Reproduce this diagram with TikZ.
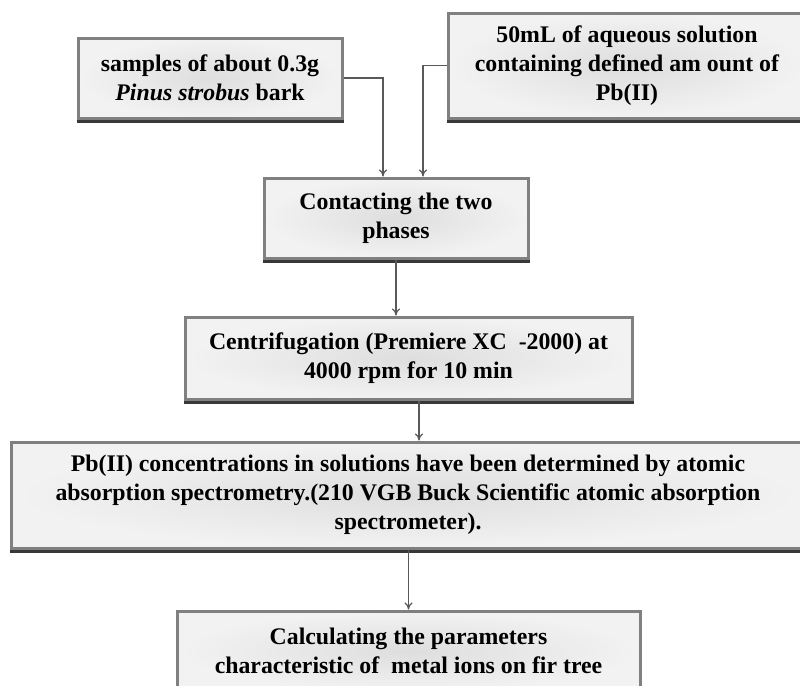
\documentclass[tikz,border=0pt]{standalone}
\usepackage{fontspec}
\setmainfont{Liberation Serif}
\usetikzlibrary{arrows.meta}

\begin{document}
\begin{tikzpicture}[
    x=0.5pt, y=-0.5pt,
    stepBox/.style={rectangle, draw=black!50, line width=1.5pt, inner color=black!13, outer color=black!5, align=center, font=\fontsize{11.9}{14.5}\selectfont\bfseries, inner sep=0pt},
    baseEdge/.style={draw=black!78, line width=1.2pt},
    arrowStyle/.style={-{To[length=3.5pt,width=4pt]}, line width=0.6pt, draw=black!65}
]
    \useasboundingbox (0,0) rectangle (800,686);
    \clip (0,0) rectangle (800,686);

    % inputs
    \node[stepBox, minimum width=132pt, minimum height=40pt] (bark) at (210,78) {
        samples of about 0.3g\\
        \textit{Pinus strobus} bark
    };
    \node[stepBox, minimum width=179pt, minimum height=52.5pt] (lead) at (627,65.5) {
        50mL of aqueous solution\\
        containing defined am ount of\\
        Pb(II)
    };

    % process steps
    \node[stepBox, minimum width=132pt, minimum height=40pt] (mix) at (396,218) {
        Contacting the two\\
        phases
    };
    \node[stepBox, minimum width=223.5pt, minimum height=41pt] (spin) at (408.5,358) {
        Centrifugation (Premiere XC\ \ -2000) at\\
        4000 rpm for 10 min
    };
    \node[stepBox, minimum width=397pt, minimum height=53pt] (aas) at (408,495) {
        Pb(II) concentrations in solutions have been determined by atomic\\
        absorption spectrometry.(210 VGB Buck Scientific atomic absorption\\
        spectrometer).
    };
    \node[stepBox, minimum width=231.5pt, minimum height=40pt] (calc) at (408.5,651) {
        Calculating the parameters\\
        characteristic of\ \ metal ions on fir tree
    };

    % darker lower edge of each box
    \foreach \n in {bark,lead,mix,spin,aas,calc}
        \draw[baseEdge] ([yshift=-0.9pt]\n.south west) -- ([yshift=-0.9pt]\n.south east);

    \draw[arrowStyle] (bark.east) -| ([xshift=-6.5pt]mix.north);
    \draw[arrowStyle] (lead.west) -| ([xshift=13.5pt]mix.north);
    \draw[arrowStyle] (mix.south) -- (mix.south |- spin.north);
    \draw[arrowStyle] ([xshift=5.25pt]spin.south) -- ([xshift=5.25pt]spin.south |- aas.north);
    \draw[arrowStyle] (calc.north |- aas.south) -- (calc.north);
\end{tikzpicture}
\end{document}
